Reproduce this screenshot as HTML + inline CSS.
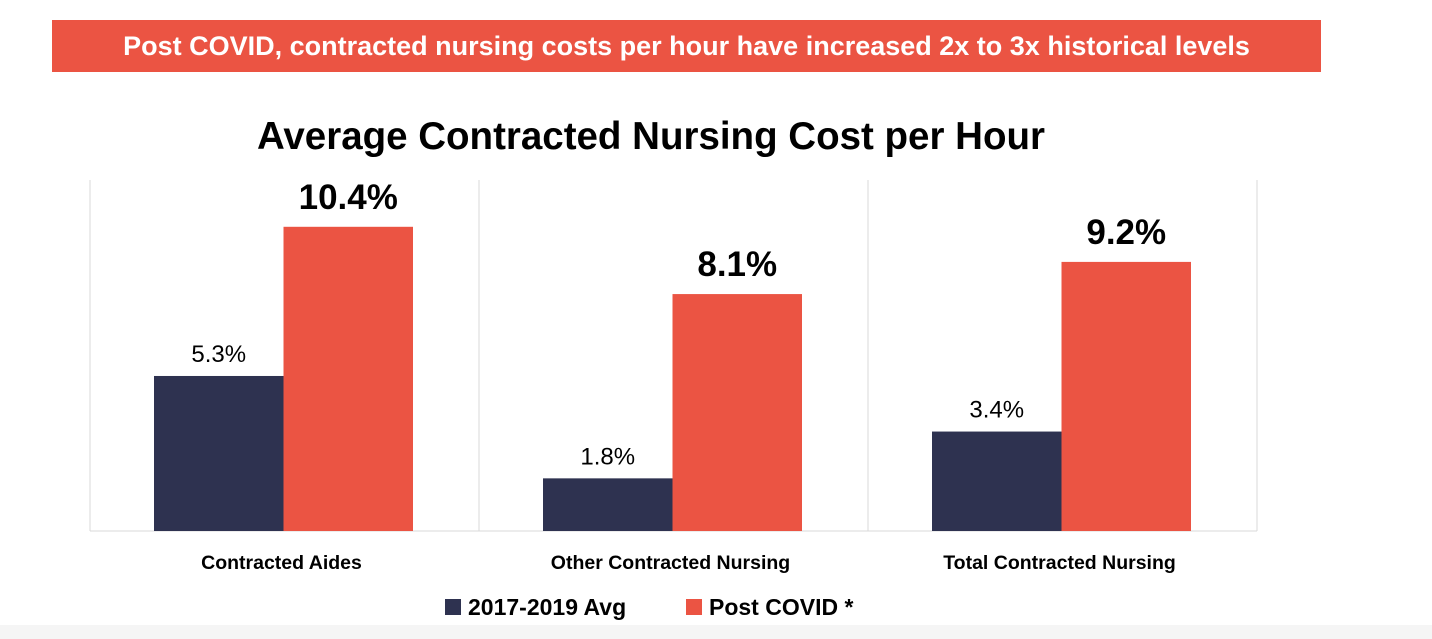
<!DOCTYPE html>
<html><head><meta charset="utf-8"><style>
body{margin:0;width:1432px;height:639px;background:#fff;overflow:hidden;font-family:"Liberation Sans",sans-serif;position:relative}
#banner{position:absolute;left:52px;top:20px;width:1269px;height:52px;background:#EB5443;color:#fff;font-weight:bold;font-size:27px;text-align:center;line-height:52px}
#strip{position:absolute;left:0;top:625px;width:1432px;height:14px;background:#f5f5f5}
</style></head><body>
<div id="banner">Post COVID, contracted nursing costs per hour have increased 2x to 3x historical levels</div>
<div id="strip"></div>
<svg id="chart" width="1432" height="639" style="position:absolute;left:0;top:0">
<text x="651" y="149" text-anchor="middle" font-size="38.5" font-weight="bold" fill="#000" font-family="Liberation Sans, sans-serif">Average Contracted Nursing Cost per Hour</text>
<g id="plot"></g>
<g id="legend">
<rect x="445" y="599" width="16" height="16" fill="#2E3250"/>
<text x="468" y="615" font-size="23" font-weight="bold" font-family="Liberation Sans, sans-serif">2017-2019 Avg</text>
<rect x="686" y="599" width="16" height="16" fill="#EB5443"/>
<text x="709" y="615" font-size="23" font-weight="bold" font-family="Liberation Sans, sans-serif">Post COVID *</text>
</g>
</svg>
<script>
const categories=["Contracted Aides","Other Contracted Nursing","Total Contracted Nursing"];
const avgValues=[5.3,1.8,3.4];
const postValues=[10.4,8.1,9.2];
const yMax=12;
const NS="http://www.w3.org/2000/svg";
const plot=document.getElementById('plot');
const plotLeft=90,plotRight=1257,plotTop=180,plotBase=531;
const catW=(plotRight-plotLeft)/categories.length;
function yScale(v){return plotBase-(v/yMax)*(plotBase-plotTop);}
function mk(tag,attrs){const e=document.createElementNS(NS,tag);for(const k in attrs)e.setAttribute(k,attrs[k]);plot.appendChild(e);return e;}
for(let i=0;i<=categories.length;i++){
  const g=mk('line',{x1:plotLeft+i*catW,x2:plotLeft+i*catW,y1:plotTop,y2:plotBase,stroke:'#d9d9d9','stroke-width':1});
  
  
}
const ax=mk('line',{x1:plotLeft,x2:plotRight,y1:plotBase,y2:plotBase,stroke:'#d9d9d9','stroke-width':1});


categories.forEach((c,i)=>{
  const cx=plotLeft+i*catW+catW/2-1;const bw=129.5;
  const a=mk('rect',{x:cx-bw,y:yScale(avgValues[i]),width:bw,height:plotBase-yScale(avgValues[i]),fill:'#2E3250'});
  
  
  const p=mk('rect',{x:cx,y:yScale(postValues[i]),width:bw,height:plotBase-yScale(postValues[i]),fill:'#EB5443'});
  
  
  const la=mk('text',{x:cx-bw/2,y:yScale(avgValues[i])-14,'text-anchor':'middle','font-size':24,fill:'#000','font-family':'Liberation Sans, sans-serif'});
  la.textContent=avgValues[i].toFixed(1)+'%';
  
  
  const lp=mk('text',{x:cx+bw/2,y:yScale(postValues[i])-18,'text-anchor':'middle','font-size':35,'font-weight':'bold',fill:'#000','font-family':'Liberation Sans, sans-serif'});
  lp.textContent=postValues[i].toFixed(1)+'%';
  
  
  const lc=mk('text',{x:cx-2,y:569,'text-anchor':'middle','font-size':19.5,'font-weight':'bold',fill:'#000','font-family':'Liberation Sans, sans-serif'});
  lc.textContent=c;
  
  
});
</script>
</body></html>
